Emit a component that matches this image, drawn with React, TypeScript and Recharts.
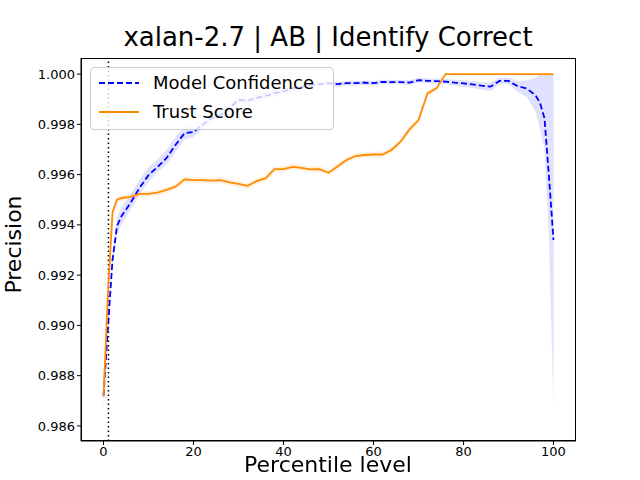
import React from 'react';
import {
  ComposedChart,
  Line,
  Area,
  XAxis,
  YAxis,
  ReferenceLine
} from 'recharts';

const percentiles = [
  0, 1, 2, 3, 4, 6, 8, 10, 12, 14, 16, 18, 20, 22, 24, 26, 28, 30, 32, 34, 36, 38, 40, 42, 44, 46, 48, 50,
  52, 54, 56, 58, 60, 62, 64, 66, 68, 70, 72, 74, 76, 78, 80, 82, 84, 86, 88, 90, 92, 94, 96, 97, 98, 99, 100
];

const modelConfidence = [
  0.9872, 0.98994, 0.9926, 0.99395, 0.99435, 0.99487, 0.99547, 0.99598, 0.9963, 0.99666, 0.99718, 0.99765,
  0.9977, 0.99797, 0.99825, 0.99837, 0.99865, 0.99897, 0.99894, 0.99905, 0.99913, 0.99924, 0.99932, 0.99944,
  0.99948, 0.99956, 0.9996, 0.99964, 0.9996, 0.99964, 0.99964, 0.99966, 0.99964, 0.99969, 0.99968, 0.99968,
  0.99966, 0.99976, 0.99973, 0.99972, 0.9997, 0.99966, 0.99963, 0.99959, 0.99954, 0.9995, 0.99973, 0.99973,
  0.99952, 0.99943, 0.99916, 0.99885, 0.99825, 0.9959, 0.9934
];

// lower / upper edges of the shaded band
const modelConfidenceLow = [
  0.9867, 0.9896, 0.9923, 0.9936, 0.9940, 0.9946, 0.9952, 0.9957, 0.9961, 0.9964, 0.9969, 0.9974,
  0.9975, 0.9978, 0.9981, 0.9982, 0.9985, 0.9988, 0.9988, 0.9989, 0.999, 0.9991, 0.9992, 0.9993,
  0.9994, 0.9995, 0.9995, 0.99955, 0.9995, 0.99955, 0.99955, 0.99957, 0.99955, 0.9996, 0.9996, 0.9996,
  0.99957, 0.99967, 0.99963, 0.99962, 0.9996, 0.99955, 0.9995, 0.99945, 0.99938, 0.99932, 0.9996, 0.9996,
  0.9993, 0.9991, 0.9985, 0.9978, 0.997, 0.9935, 0.98668
];
const modelConfidenceHigh = [
  0.9877, 0.9903, 0.9929, 0.9943, 0.9947, 0.9952, 0.9958, 0.9963, 0.9966, 0.9970, 0.9975, 0.9979,
  0.9979, 0.9982, 0.9984, 0.9985, 0.9988, 0.9991, 0.9991, 0.9992, 0.9993, 0.9994, 0.9994, 0.9995,
  0.99955, 0.99963, 0.99968, 0.99972, 0.99968, 0.99972, 0.99972, 0.99974, 0.99972, 0.99977, 0.99976, 0.99976,
  0.99975, 0.99985, 0.99982, 0.99982, 0.9998, 0.99977, 0.99975, 0.99972, 0.99968, 0.99967, 0.99986, 0.99986,
  0.99972, 0.99975, 0.99985, 1, 1, 1, 1
];

const trustScore = [
  0.98717, 0.9913, 0.9945, 0.995, 0.99507, 0.99511, 0.99523, 0.99523, 0.99528, 0.99539, 0.99552, 0.99581,
  0.99578, 0.99578, 0.99576, 0.99578, 0.99569, 0.99563, 0.99555, 0.99574, 0.99585, 0.99622, 0.99622, 0.99631,
  0.99627, 0.99621, 0.99622, 0.99607, 0.99632, 0.99658, 0.99674, 0.99678, 0.9968, 0.9968, 0.99698, 0.99731,
  0.9978, 0.99817, 0.99923, 0.99943, 1, 1, 1, 1, 1, 1, 1, 1,
  1, 1, 1, 1, 1, 1, 1
];

// half-width of the trust score band
const trustScoreSpread = [
  0.0001, 0.0002, 0.00015, 0.00012, 0.00012, 0.00012, 0.00012, 0.00012, 0.00012, 0.00012, 0.00012, 0.00012,
  0.00012, 0.00012, 0.00012, 0.00012, 0.00012, 0.00012, 0.00012, 0.00012, 0.00012, 0.00012, 0.00012, 0.00012,
  0.00012, 0.00012, 0.00012, 0.00012, 0.00012, 0.00012, 0.00012, 0.00012, 0.00012, 0.00012, 0.00012, 0.00012,
  0.00012, 0.00012, 0.0001, 0.0001, 0, 0, 0, 0, 0, 0, 0, 0,
  0, 0, 0, 0, 0, 0, 0
];

const xTicks = [0, 20, 40, 60, 80, 100];
const yTicks = [0.986, 0.988, 0.99, 0.992, 0.994, 0.996, 0.998, 1.0];

const data = percentiles.map((p, i) => ({
  p,
  mc: modelConfidence[i],
  mcBand: [modelConfidenceLow[i], modelConfidenceHigh[i]],
  ts: trustScore[i],
  tsBand: [trustScore[i] - trustScoreSpread[i], Math.min(1, trustScore[i] + trustScoreSpread[i])]
}));

const font = 'DejaVu Sans, sans-serif';

export default function App() {
  return (
    <div style={{ position: 'fixed', left: 0, top: 0, width: 640, height: 480, background: '#fff', fontFamily: font }}>
      <div style={{ position: 'absolute', top: 22, left: 0, width: 656, textAlign: 'center', fontSize: 26 }}>
        xalan-2.7 | AB | Identify Correct
      </div>
      <ComposedChart width={640} height={480} data={data} margin={{ top: 58, right: 64, bottom: 0, left: 0 }}>
        <XAxis
          dataKey="p"
          type="number"
          domain={[-5, 105]}
          ticks={xTicks}
          tick={{ fill: '#000', fontSize: 13, fontFamily: font }}
          stroke="#000"
          tickSize={4}
          height={39}
        />
        <YAxis
          type="number"
          domain={[0.9854, 1.00064]}
          ticks={yTicks}
          tickFormatter={(v: number) => v.toFixed(3)}
          tick={{ fill: '#000', fontSize: 13, fontFamily: font }}
          stroke="#000"
          tickSize={4}
          width={81}
          allowDataOverflow
        />
        <Area dataKey="mcBand" stroke="none" fill="#0000ff" fillOpacity={0.12} isAnimationActive={false} />
        <Area dataKey="tsBand" stroke="none" fill="#ff8c00" fillOpacity={0.12} isAnimationActive={false} />
        <ReferenceLine x={1.1} stroke="#000" strokeWidth={1.5} strokeDasharray="1.5 3" />
        <Line dataKey="mc" stroke="#0000ff" strokeWidth={1.8} strokeDasharray="6 3" dot={false} isAnimationActive={false} />
        <Line dataKey="ts" stroke="#ff8c00" strokeWidth={1.8} dot={false} isAnimationActive={false} />
      </ComposedChart>
      <div style={{ position: 'absolute', left: 81, top: 58, width: 495, height: 383, border: '1px solid #000', boxSizing: 'border-box', pointerEvents: 'none' }} />
      <div style={{ position: 'absolute', left: 0, top: 452, width: 656, textAlign: 'center', fontSize: 22 }}>Percentile level</div>
      <div style={{ position: 'absolute', left: -37, top: 232, width: 100, textAlign: 'center', fontSize: 22, transform: 'rotate(-90deg)' }}>Precision</div>
      <div style={{ position: 'absolute', left: 90, top: 67, width: 244, height: 63, border: '1px solid #ccc', borderRadius: 4, background: 'rgba(255,255,255,0.8)', boxSizing: 'border-box', fontSize: 18 }}>
        <div style={{ position: 'absolute', left: 8, top: 4, display: 'flex', alignItems: 'center' }}>
          <svg width={40} height={20}><line x1={0} y1={10} x2={40} y2={10} stroke="#0000ff" strokeWidth={1.8} strokeDasharray="6 3" /></svg>
          <span style={{ marginLeft: 14 }}>Model Confidence</span>
        </div>
        <div style={{ position: 'absolute', left: 8, top: 33, display: 'flex', alignItems: 'center' }}>
          <svg width={40} height={20}><line x1={0} y1={10} x2={40} y2={10} stroke="#ff8c00" strokeWidth={1.8} /></svg>
          <span style={{ marginLeft: 14 }}>Trust Score</span>
        </div>
      </div>
    </div>
  );
}
